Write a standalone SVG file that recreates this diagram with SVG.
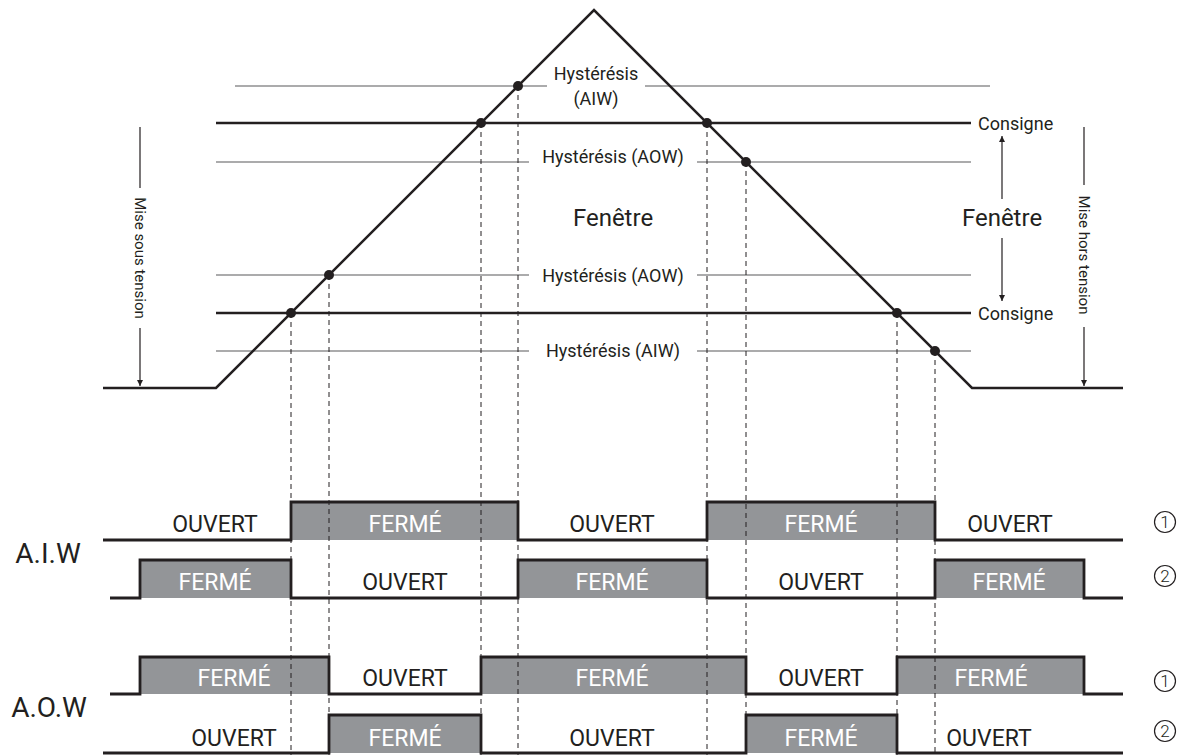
<svg xmlns="http://www.w3.org/2000/svg" width="1193" height="755" viewBox="0 0 1193 755">
<style>
text{font-family:Roboto,"Liberation Sans",sans-serif;fill:#231f20}
.thick{stroke:#231f20;stroke-width:2.5;fill:none}
.thin{stroke:#58595b;stroke-width:1.2;fill:none}
.dash{stroke:#231f20;stroke-width:1;stroke-dasharray:5,4;fill:none}
.sig{stroke:#231f20;stroke-width:2.8;fill:none;stroke-linejoin:miter}
.fill{fill:#939598;stroke:none}
.arr{stroke:#231f20;stroke-width:1.2;fill:none}
.hy{font-size:18px;text-anchor:middle}
.st{font-size:23px;text-anchor:middle}
.w{fill:#ffffff}
.num{font-size:17px;text-anchor:middle;font-weight:300}
.ring{fill:none;stroke:#231f20;stroke-width:1.2}
</style>
<defs>
<marker id="ah" viewBox="0 0 10 10" refX="10" refY="5" markerWidth="6" markerHeight="6" orient="auto" markerUnits="userSpaceOnUse">
<path d="M0,0 L10,5 L0,10 Z" fill="#231f20"/>
</marker>
</defs>

<g id="levels">
<path class="thin" d="M235,86 H547 M645,86 H990"/>
<path class="thick" d="M216,123 H971"/>
<path class="thin" d="M216,162 H529 M697,162 H971"/>
<path class="thin" d="M216,275 H529 M697,275 H971"/>
<path class="thick" d="M216,313 H971"/>
<path class="thin" d="M216,351 H529 M697,351 H971"/>
</g>

<g id="ramp">
<path class="thick" d="M103,388 H216 L594,10 L972,388 H1123"/>
</g>

<g id="fills">
<rect class="fill" x="291" y="502" width="227" height="38"/>
<rect class="fill" x="707" y="502" width="228" height="38"/>
<rect class="fill" x="140" y="560" width="151" height="38"/>
<rect class="fill" x="518" y="560" width="189" height="38"/>
<rect class="fill" x="935" y="560" width="149" height="38"/>
<rect class="fill" x="140" y="657" width="189" height="37"/>
<rect class="fill" x="481" y="657" width="265" height="37"/>
<rect class="fill" x="897" y="657" width="187" height="37"/>
<rect class="fill" x="329" y="715" width="152" height="38"/>
<rect class="fill" x="746" y="715" width="151" height="38"/>
</g>

<g id="connectors">
<path class="dash" d="M291,313 V755 M329,275 V755 M481,123 V755 M518,86 V755 M707,123 V755 M746,162 V755 M897,313 V755 M935,351 V755"/>
<path class="arr" d="M140,127 V188 M140,328 V386" marker-end="url(#ah)"/>
<path class="arr" d="M1084,127 V185 M1084,327 V386" marker-end="url(#ah)"/>
<path class="arr" d="M1002,199 V136" marker-end="url(#ah)"/>
<path class="arr" d="M1002,238 V301" marker-end="url(#ah)"/>
</g>

<g id="dots" fill="#231f20">
<circle cx="518" cy="86" r="5"/>
<circle cx="481" cy="123" r="5"/>
<circle cx="329" cy="275" r="5"/>
<circle cx="291" cy="313" r="5"/>
<circle cx="707" cy="123" r="5"/>
<circle cx="746" cy="162" r="5"/>
<circle cx="897" cy="313" r="5"/>
<circle cx="935" cy="351" r="5"/>
</g>

<g id="signals">
<path class="sig" d="M103,540 H291 V502 H518 V540 H707 V502 H935 V540 H1123"/>
<path class="sig" d="M110,598 H140 V560 H291 V598 H518 V560 H707 V598 H935 V560 H1084 V598 H1123"/>
<path class="sig" d="M110,694 H140 V657 H329 V694 H481 V657 H746 V694 H897 V657 H1084 V694 H1123"/>
<path class="sig" d="M103,753 H329 V715 H481 V753 H746 V715 H897 V753 H1123"/>
</g>

<g id="labels-top">
<text class="hy" x="596" y="80">Hystérésis</text>
<text class="hy" x="596" y="105">(AIW)</text>
<text class="hy" x="613" y="163">Hystérésis (AOW)</text>
<text class="hy" x="613" y="282">Hystérésis (AOW)</text>
<text class="hy" x="613" y="357">Hystérésis (AIW)</text>
<text x="613" y="226" font-size="24" text-anchor="middle">Fenêtre</text>
<text x="1002" y="226" font-size="24" text-anchor="middle">Fenêtre</text>
<text x="978" y="130" font-size="18">Consigne</text>
<text x="978" y="320" font-size="18">Consigne</text>
<text transform="translate(140,258) rotate(90)" x="0" y="5" font-size="15" text-anchor="middle">Mise sous tension</text>
<text transform="translate(1084,255) rotate(90)" x="0" y="5" font-size="15" text-anchor="middle">Mise hors tension</text>
</g>

<g id="row1">
<text class="st" x="215" y="532">OUVERT</text>
<text class="st w" x="405" y="532">FERMÉ</text>
<text class="st" x="612" y="532">OUVERT</text>
<text class="st w" x="821" y="532">FERMÉ</text>
<text class="st" x="1010" y="532">OUVERT</text>
</g>
<g id="row2">
<text class="st w" x="215" y="590">FERMÉ</text>
<text class="st" x="405" y="590">OUVERT</text>
<text class="st w" x="612" y="590">FERMÉ</text>
<text class="st" x="821" y="590">OUVERT</text>
<text class="st w" x="1009" y="590">FERMÉ</text>
</g>
<g id="row3">
<text class="st w" x="234" y="686">FERMÉ</text>
<text class="st" x="405" y="686">OUVERT</text>
<text class="st w" x="612" y="686">FERMÉ</text>
<text class="st" x="821" y="686">OUVERT</text>
<text class="st w" x="991" y="686">FERMÉ</text>
</g>
<g id="row4">
<text class="st" x="234" y="746">OUVERT</text>
<text class="st w" x="405" y="746">FERMÉ</text>
<text class="st" x="612" y="746">OUVERT</text>
<text class="st w" x="821" y="746">FERMÉ</text>
<text class="st" x="989" y="746">OUVERT</text>
</g>

<g id="group-labels">
<text x="48" y="563" font-size="28" text-anchor="middle">A.I.W</text>
<text x="49" y="717" font-size="28" text-anchor="middle">A.O.W</text>
</g>

<g id="numbers">
<circle class="ring" cx="1165" cy="522" r="10.5"/>
<text class="num" x="1165" y="528">1</text>
<circle class="ring" cx="1165" cy="576" r="10.5"/>
<text class="num" x="1165" y="582">2</text>
<circle class="ring" cx="1165" cy="681" r="10.5"/>
<text class="num" x="1165" y="687">1</text>
<circle class="ring" cx="1165" cy="731" r="10.5"/>
<text class="num" x="1165" y="737">2</text>
</g>
</svg>
